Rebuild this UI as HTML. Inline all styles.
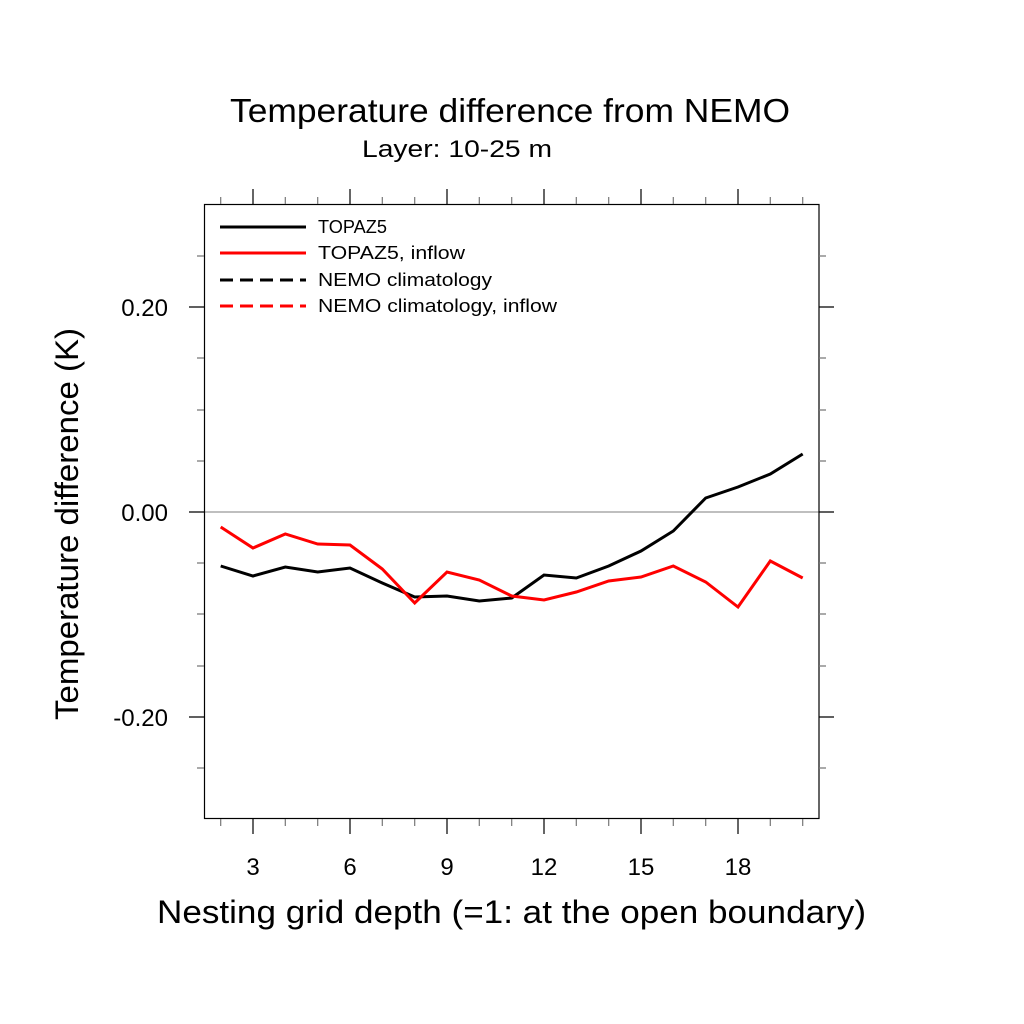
<!DOCTYPE html>
<html><head><style>body{margin:0;background:#fff}svg{display:block}</style></head><body>
<svg width="1024" height="1024" xmlns="http://www.w3.org/2000/svg" font-family="Liberation Sans, sans-serif">
<rect width="1024" height="1024" fill="#fff"/>
<text x="230" y="122" font-size="33" textLength="560" lengthAdjust="spacingAndGlyphs">Temperature difference from NEMO</text>
<text x="362" y="157" font-size="24" textLength="190" lengthAdjust="spacingAndGlyphs">Layer: 10-25 m</text>
<line x1="205" y1="512" x2="819" y2="512" stroke="#aaa" stroke-width="1.5"/>
<g stroke="#000" stroke-width="1.2">
<rect x="204.5" y="204.5" width="614.5" height="614" fill="none"/>
<path d="M253 819v15M350 819v15M447 819v15M544 819v15M641 819v15M738 819v15 M253 204v-15M350 204v-15M447 204v-15M544 204v-15M641 204v-15M738 204v-15"/>
<path d="M204 307h-15M204 512h-15M204 717h-15M819 307h15M819 512h15M819 717h15"/>
</g>
<g stroke="#777" stroke-width="1.2">
<path d="M220.7 819v7M285.3 819v7M317.7 819v7M382.3 819v7M414.7 819v7M479.3 819v7M511.7 819v7M576.3 819v7M608.7 819v7M673.3 819v7M705.7 819v7M770.3 819v7M802.7 819v7
M220.7 204v-7M285.3 204v-7M317.7 204v-7M382.3 204v-7M414.7 204v-7M479.3 204v-7M511.7 204v-7M576.3 204v-7M608.7 204v-7M673.3 204v-7M705.7 204v-7M770.3 204v-7M802.7 204v-7
M204 256h-7M204 358h-7M204 410h-7M204 461h-7M204 563h-7M204 614h-7M204 666h-7M204 768h-7
M819 256h7M819 358h7M819 410h7M819 461h7M819 563h7M819 614h7M819 666h7M819 768h7"/>
</g>
<g font-size="24" text-anchor="middle">
<text x="253" y="875">3</text><text x="350" y="875">6</text><text x="447" y="875">9</text><text x="544" y="875">12</text><text x="641" y="875">15</text><text x="738" y="875">18</text>
</g>
<g font-size="24" text-anchor="end">
<text x="168" y="316">0.20</text><text x="168" y="521">0.00</text><text x="168" y="726">-0.20</text>
</g>
<text x="157" y="923" font-size="32" textLength="709" lengthAdjust="spacingAndGlyphs">Nesting grid depth (=1: at the open boundary)</text>
<text transform="translate(78,720) rotate(-90)" font-size="32" textLength="392" lengthAdjust="spacingAndGlyphs">Temperature difference (K)</text>
<polyline fill="none" stroke="#000" stroke-width="3" points="220.7,566 253,576 285.3,567 317.7,572 350,568 382.3,583 414.7,597 447,596 479.3,601 511.7,598 544,575 576.3,578 608.7,566 641,551 673.3,531 705.7,498 738,487 770.3,474 802.7,454"/>
<polyline fill="none" stroke="#f00" stroke-width="3" points="220.7,527 253,548 285.3,534 317.7,544 350,545 382.3,569 414.7,603 447,572 479.3,580 511.7,596 544,600 576.3,592 608.7,581 641,577 673.3,566 705.7,582 738,607 770.3,561 802.7,578"/>
<g stroke-width="3">
<line x1="220" y1="227" x2="306" y2="227" stroke="#000"/>
<line x1="220" y1="253" x2="306" y2="253" stroke="#f00"/>
<line x1="220" y1="280" x2="306" y2="280" stroke="#000" stroke-dasharray="13,7"/>
<line x1="220" y1="306" x2="306" y2="306" stroke="#f00" stroke-dasharray="13,7"/>
</g>
<g font-size="18">
<text x="318" y="233" textLength="69" lengthAdjust="spacingAndGlyphs">TOPAZ5</text>
<text x="318" y="259" textLength="147" lengthAdjust="spacingAndGlyphs">TOPAZ5, inflow</text>
<text x="318" y="286" textLength="174" lengthAdjust="spacingAndGlyphs">NEMO climatology</text>
<text x="318" y="312" textLength="239" lengthAdjust="spacingAndGlyphs">NEMO climatology, inflow</text>
</g>
</svg>
</body></html>
